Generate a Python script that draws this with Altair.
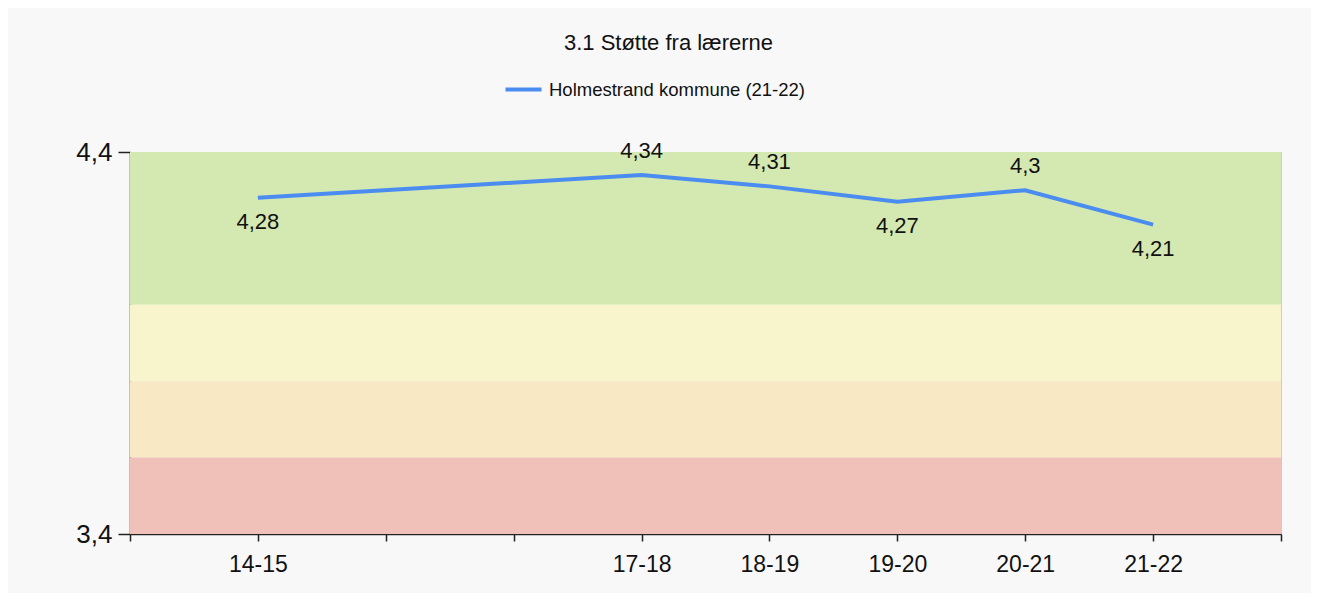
import altair as alt
import pandas as pd

periods = ["14-15", "15-16", "16-17", "17-18", "18-19", "19-20", "20-21", "21-22"]
values = [4.28, None, None, 4.34, 4.31, 4.27, 4.30, 4.21]
label_side = ["below", None, None, "above", "above", "below", "above", "below"]
series_name = "Holmestrand kommune (21-22)"

band_lo = [4.0, 3.8, 3.6, 3.4]
band_hi = [4.4, 4.0, 3.8, 3.6]
band_name = ["green", "yellow", "orange", "red"]
band_color = ["#d4e8b1", "#f8f5cc", "#f9e8c4", "#f0c1b8"]

pos = list(range(1, len(periods) + 1))
tick_labels = [""] + [p if v is not None else "" for p, v in zip(periods, values)] + [""]

df = pd.DataFrame({"pos": pos, "period": periods, "value": values, "side": label_side,
                   "series": series_name})
df_line = df.dropna(subset=["value"])
bands = pd.DataFrame({"lo": band_lo, "hi": band_hi, "name": band_name})

label_map = "[" + ",".join(f"'{t}'" for t in tick_labels) + "]"

x_scale = alt.Scale(domain=[0, len(periods) + 1], nice=False, zero=False)
y_scale = alt.Scale(domain=[3.4, 4.4], nice=False, zero=False)

base_font = "Liberation Sans"

y_axis = alt.Axis(values=[3.4, 4.4], labelExpr="replace(format(datum.value,'.1f'),'.',',')",
                  grid=False, tickSize=12, tickColor="#222", domainColor="#222", domainWidth=1.5,
                  tickWidth=1.5, labelFont=base_font, labelFontSize=26, labelColor="#111",
                  labelPadding=6)
x_axis = alt.Axis(values=list(range(0, len(periods) + 2)), labelExpr=f"{label_map}[datum.value]",
                  grid=False, tickSize=7, tickColor="#222", domainColor="#222", domainWidth=1.5,
                  tickWidth=1.5, labelFont=base_font, labelFontSize=23,
                  labelColor="#111", labelPadding=12, labelFlush=False, labelOverlap=False)

rects = alt.Chart(bands).mark_rect().encode(
    y=alt.Y("lo:Q", scale=y_scale, axis=y_axis, title=None),
    y2="hi:Q",
    color=alt.Color("name:N", scale=alt.Scale(domain=band_name, range=band_color), legend=None),
)

line = alt.Chart(df_line).mark_line(strokeWidth=4, color="#4a8cf0").encode(
    x=alt.X("pos:Q", scale=x_scale, title=None, axis=x_axis),
    y=alt.Y("value:Q", scale=y_scale, title=None, axis=y_axis),
    stroke=alt.Stroke("series:N", scale=alt.Scale(domain=[series_name], range=["#4a8cf0"]),
                      legend=alt.Legend(title=None, orient="none", legendX=373, legendY=-83,
                                        symbolType="stroke", symbolSize=1300, symbolStrokeWidth=4,
                                        labelFont=base_font, labelFontSize=18.5, labelColor="#111",
                                        labelLimit=0, padding=0, labelOffset=5)),
)

def labels(side, dy):
    return alt.Chart(df_line).transform_filter(f"datum.side == '{side}'").transform_calculate(
        txt="replace(format(datum.value,'.2~f'),'.',',')"
    ).mark_text(dy=dy, font=base_font, fontSize=22, color="#111").encode(
        x=alt.X("pos:Q", scale=x_scale),
        y=alt.Y("value:Q", scale=y_scale),
        text="txt:N",
    )

chart = alt.layer(rects, line, labels("above", -24), labels("below", 24)).properties(
    width=1151, height=382,
    autosize=alt.AutoSizeParams(type="none"),
    padding={"left": 122, "top": 144, "right": 30, "bottom": 59},
    background="#f8f8f8",
    title=alt.TitleParams("3.1 Støtte fra lærerne", font=base_font, fontSize=22, fontWeight="normal",
                          color="#111", anchor="middle", dx=-37, offset=14),
).configure_view(stroke="#cccccc", strokeWidth=1)

chart.save("out.html", embed_options={"renderer": "svg", "actions": False})
